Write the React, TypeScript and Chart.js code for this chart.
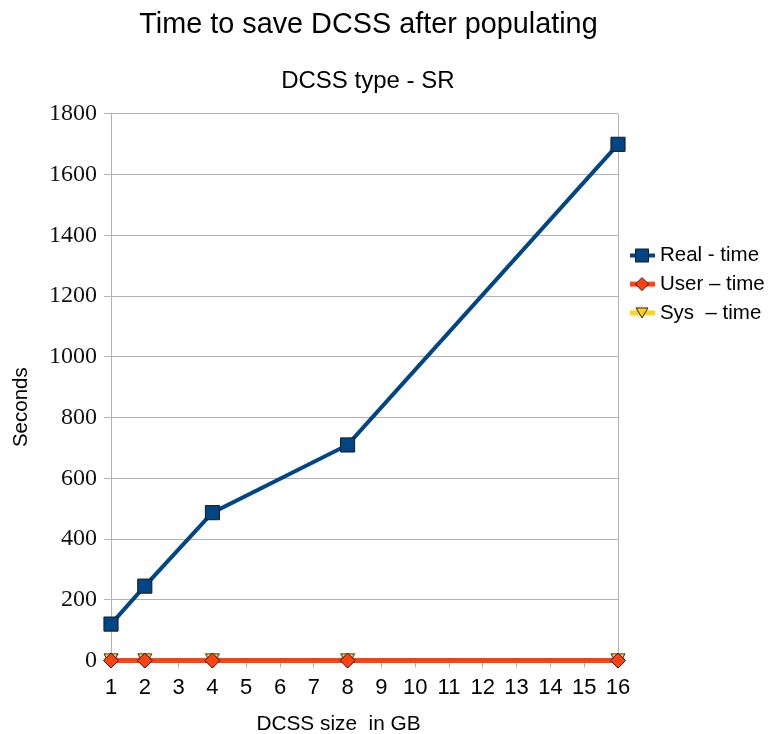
import React, { useEffect, useRef } from 'react';
import { Chart, registerables } from 'chart.js';

Chart.register(...registerables);

// ---- data ----
const sizesGB = [1, 2, 4, 8, 16];
const realSeconds = [120, 245, 487, 710, 1700];
const userSeconds = [0, 0, 0, 0, 0];
const sysSeconds = [0, 0, 0, 0, 0];
const seriesNames = ['Real - time', 'User – time', 'Sys  – time'];
const seriesColors = ['#004586', '#ff420e', '#ffd320'];
const xRange = [1, 16];
const yRange = [0, 1800];
const yStep = 200;
const chartTitle = 'Time to save DCSS after populating';
const chartSubtitle = 'DCSS type - SR';
const xAxisLabel = 'DCSS size  in GB';
const yAxisLabel = 'Seconds';

const SANS = "'Liberation Sans', Arial, sans-serif";
const SERIF = "'Liberation Serif', 'Times New Roman', serif";
const GRID = '#b3b3b3';
const EDGE = '#1a1a1a';

function makeCanvas(w: number, h: number, draw: (ctx: CanvasRenderingContext2D) => void) {
  const c = document.createElement('canvas');
  c.width = w;
  c.height = h;
  const ctx = c.getContext('2d') as CanvasRenderingContext2D;
  draw(ctx);
  return c;
}

function square(ctx: CanvasRenderingContext2D, cx: number, cy: number, half: number, fill: string) {
  ctx.beginPath();
  ctx.rect(cx - half, cy - half, half * 2, half * 2);
  ctx.fillStyle = fill;
  ctx.fill();
  ctx.strokeStyle = EDGE;
  ctx.lineWidth = 1;
  ctx.stroke();
}

function diamond(ctx: CanvasRenderingContext2D, cx: number, cy: number, half: number, fill: string) {
  ctx.beginPath();
  ctx.moveTo(cx, cy - half);
  ctx.lineTo(cx + half, cy);
  ctx.lineTo(cx, cy + half);
  ctx.lineTo(cx - half, cy);
  ctx.closePath();
  ctx.fillStyle = fill;
  ctx.fill();
  ctx.strokeStyle = EDGE;
  ctx.lineWidth = 1;
  ctx.stroke();
}

function downTriangle(ctx: CanvasRenderingContext2D, cx: number, cy: number, halfW: number, halfH: number, fill: string) {
  ctx.beginPath();
  ctx.moveTo(cx - halfW, cy - halfH);
  ctx.lineTo(cx + halfW, cy - halfH);
  ctx.lineTo(cx, cy + halfH);
  ctx.closePath();
  ctx.fillStyle = fill;
  ctx.fill();
  ctx.strokeStyle = EDGE;
  ctx.lineWidth = 1;
  ctx.stroke();
}

function legendIcon(kind: number) {
  return makeCanvas(36, 20, (ctx) => {
    ctx.beginPath();
    ctx.moveTo(10, 10);
    ctx.lineTo(35, 10);
    ctx.strokeStyle = seriesColors[kind];
    ctx.lineWidth = kind === 0 ? 4 : 5;
    ctx.stroke();
    if (kind === 0) square(ctx, 22, 10, 6.5, seriesColors[0]);
    if (kind === 1) diamond(ctx, 22, 10, 6.5, seriesColors[1]);
    if (kind === 2) downTriangle(ctx, 22, 10, 6, 5, seriesColors[2]);
  });
}

export default function App() {
  const ref = useRef<HTMLCanvasElement | null>(null);

  useEffect(() => {
    if (!ref.current) return;
    const triMarker = makeCanvas(16, 16, (ctx) => downTriangle(ctx, 8, 8, 7, 7, seriesColors[2]));
    const icons = [legendIcon(0), legendIcon(1), legendIcon(2)];

    const toPts = (vals: number[]) => sizesGB.map((x, i) => ({ x, y: vals[i] }));

    const chart = new Chart(ref.current, {
      type: 'line',
      data: {
        datasets: [
          {
            label: seriesNames[0],
            data: toPts(realSeconds),
            borderColor: seriesColors[0],
            backgroundColor: seriesColors[0],
            borderWidth: 4,
            pointStyle: 'rect',
            pointRadius: 10,
            pointBackgroundColor: seriesColors[0],
            pointBorderColor: EDGE,
            pointBorderWidth: 1,
            tension: 0,
            clip: false as any,
          },
          {
            label: seriesNames[1],
            data: toPts(userSeconds),
            borderColor: seriesColors[1],
            backgroundColor: seriesColors[1],
            borderWidth: 5,
            pointStyle: 'rectRot',
            pointRadius: 7.5,
            pointBackgroundColor: seriesColors[1],
            pointBorderColor: EDGE,
            pointBorderWidth: 1,
            tension: 0,
            clip: false as any,
          },
          {
            label: seriesNames[2],
            data: toPts(sysSeconds),
            borderColor: seriesColors[2],
            backgroundColor: seriesColors[2],
            borderWidth: 5,
            pointStyle: triMarker as any,
            pointRadius: 8,
            tension: 0,
            clip: false as any,
          },
        ],
      },
      options: {
        animation: false,
        responsive: true,
        maintainAspectRatio: false,
        events: [],
        layout: { padding: 0 },
        plugins: {
          title: {
            display: true,
            text: ' ' + chartTitle,
            color: '#000',
            font: { family: SANS, size: 28.8, weight: 'normal' },
            padding: { top: 7.7, bottom: 11.5 },
            fullSize: false,
          },
          subtitle: {
            display: true,
            text: ' ' + chartSubtitle,
            color: '#000',
            font: { family: SANS, size: 24, weight: 'normal' },
            padding: { top: 13.3, bottom: 18.1 },
            fullSize: false,
          },
          legend: {
            display: true,
            position: 'right',
            align: 'start',
            maxWidth: 152,
            title: {
              display: true,
              text: '',
              font: { size: 10 },
              padding: { top: 225, bottom: 0 },
            },
            labels: {
              usePointStyle: true,
              pointStyleWidth: 23.5,
              padding: 8.2,
              color: '#000',
              font: { family: SANS, size: 20.5 },
              generateLabels: (c: any) => {
                const items = (Chart.defaults.plugins.legend.labels as any).generateLabels(c);
                return items.map((it: any, i: number) => ({ ...it, pointStyle: icons[i], fontColor: '#000' }));
              },
            },
          },
          tooltip: { enabled: false },
        },
        scales: {
          x: {
            type: 'linear',
            min: xRange[0],
            max: xRange[1],
            ticks: {
              stepSize: 1,
              autoSkip: false,
              maxRotation: 0,
              color: '#000',
              padding: 7.3,
              font: { family: SANS, size: 22 },
              callback: (v: any) => String(v),
            },
            grid: {
              color: (ctx: any) => {
                const v = ctx.tick ? ctx.tick.value : null;
                return v === xRange[0] || v === xRange[1] ? GRID : 'rgba(0,0,0,0)';
              },
              tickColor: GRID,
              tickLength: 7,
            },
            border: { color: GRID },
            title: {
              display: true,
              text: xAxisLabel + '         ',
              color: '#000',
              font: { family: SANS, size: 20.8 },
              padding: { top: 3.3, bottom: -2.8 },
            },
          },
          y: {
            min: yRange[0],
            max: yRange[1],
            ticks: {
              stepSize: yStep,
              color: '#111',
              padding: 7,
              font: { family: SERIF, size: 24 },
              callback: (v: any) => String(v),
            },
            grid: { color: GRID, tickColor: GRID, tickLength: 7 },
            border: { color: GRID },
            title: {
              display: true,
              text: yAxisLabel + '       ',
              color: '#000',
              font: { family: SANS, size: 20.5 },
              padding: { top: 8.7, bottom: 8.7 },
            },
          },
        },
      } as any,
    });
    return () => chart.destroy();
  }, []);

  return (
    <div style={{ position: 'fixed', left: 0, top: 0, width: 770, height: 734, background: '#fff' }}>
      <canvas ref={ref} />
    </div>
  );
}
